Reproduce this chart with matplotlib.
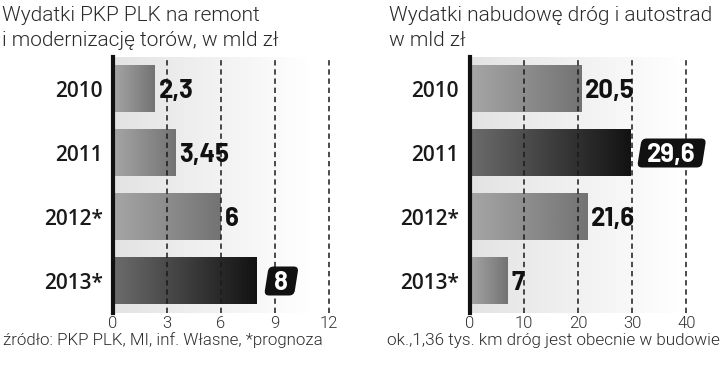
import matplotlib
matplotlib.use("Agg")
import matplotlib.pyplot as plt
import numpy as np
from matplotlib.colors import LinearSegmentedColormap
from matplotlib.patches import FancyBboxPatch
from matplotlib.transforms import Affine2D

YEARS = ["2010", "2011", "2012*", "2013*"]
RAIL_VALUES = [2.3, 3.45, 6, 8]
ROAD_VALUES = [20.5, 29.6, 21.6, 7]
RAIL_TICKS = [0, 3, 6, 9, 12]
ROAD_TICKS = [0, 10, 20, 30, 40]
RAIL_HIGHLIGHT = 3
ROAD_HIGHLIGHT = 1

RAIL_TITLE = ["Wydatki PKP PLK na remont", "i modernizację torów, w mld zł"]
ROAD_TITLE = ["Wydatki nabudowę dróg i autostrad", "w mld zł"]
RAIL_NOTE = "źródło: PKP PLK, MI, inf. Własne, *prognoza"
ROAD_NOTE = "ok.,1,36 tys. km dróg jest obecnie w budowie"

LIGHT_FONT = "Roboto"
LABEL_FONT = "Barlow"
YEAR_FONT = "Open Sans"

W, H = 720, 371

bar_cmap = LinearSegmentedColormap.from_list("bar", ["#a6a6a6", "#737373"])
hl_cmap = LinearSegmentedColormap.from_list("hl", ["#6c6c6c", "#121212"])
bg_cmap = LinearSegmentedColormap.from_list("bg", ["#e3e3e3", "#ffffff"])


def fmt(v):
    return f"{v:g}".replace(".", ",")


def draw_panel(fig, rect, values, ticks, xmax, highlight):
    ax = fig.add_axes(rect)
    n = len(values)
    grad = np.linspace(0, 1, 256)
    fade = np.clip(grad / 0.88, 0, 1)
    ax.imshow(fade[None, :], cmap=bg_cmap, extent=(0, xmax, n - 0.5, -0.5),
              aspect="auto", zorder=0, interpolation="bilinear")
    for i, v in enumerate(values):
        cmap = hl_cmap if i == highlight else bar_cmap
        ax.imshow(grad[None, :], cmap=cmap, extent=(0, v, i + 0.36, i - 0.36),
                  aspect="auto", zorder=1, interpolation="bilinear")
    for t in ticks[1:]:
        ax.axvline(t, color="#1a1a1a", lw=1.1, ls=(0, (3.5, 2.5)), zorder=2)

    ax.set_xlim(0, xmax)
    ax.set_ylim(n - 0.5, -0.5)
    for s in ["top", "right", "bottom"]:
        ax.spines[s].set_visible(False)
    ax.spines["left"].set_linewidth(3)
    ax.spines["left"].set_color("#111111")
    ax.spines["left"].set_zorder(3)

    ax.set_xticks(ticks)
    ax.set_xticklabels([str(t) for t in ticks], fontfamily=LIGHT_FONT,
                       fontweight=300, fontsize=12, color="#333333")
    ax.set_yticks(range(n))
    ax.set_yticklabels(YEARS, fontfamily=YEAR_FONT, fontweight=600,
                       fontsize=15, color="#1a1a1a")
    ax.tick_params(axis="x", length=0, pad=2)
    ax.tick_params(axis="y", length=0, pad=7.5)

    labels = []
    for i, v in enumerate(values):
        if i == highlight:
            txt = ax.annotate(fmt(v), (v, i), xytext=(12.5, -6.6), textcoords="offset points",
                              ha="left", va="baseline", fontfamily=LABEL_FONT,
                              fontweight=700, fontsize=18.5, color="white", zorder=5,
                              annotation_clip=False)
            labels.append((txt, i))
        else:
            ax.annotate(fmt(v), (v, i), xytext=(3, -6.6), textcoords="offset points",
                        ha="left", va="baseline", fontfamily=LABEL_FONT,
                        fontweight=700, fontsize=18.5, color="#111111", zorder=5,
                        annotation_clip=False)
    return ax, labels


fig = plt.figure(figsize=(W / 100, H / 100), dpi=100)

bottom = (H - 313) / H
height = 256 / H
ax1, hl1 = draw_panel(fig, [113 / W, bottom, 225 / W, height],
                      RAIL_VALUES, RAIL_TICKS, 12.5, RAIL_HIGHLIGHT)
ax2, hl2 = draw_panel(fig, [469.5 / W, bottom, 244 / W, height],
                      ROAD_VALUES, ROAD_TICKS, 45, ROAD_HIGHLIGHT)

for x, lines in [(2, RAIL_TITLE), (389, ROAD_TITLE)]:
    for k, line in enumerate(lines):
        fig.text(x / W, 1 - (21 + 25 * k) / H, line, ha="left", va="baseline",
                 fontfamily=LIGHT_FONT, fontweight=300, fontsize=15, color="#2a2a2a")
fig.text(3 / W, 1 - 345 / H, RAIL_NOTE, ha="left", va="baseline", fontfamily=LIGHT_FONT,
         fontweight=300, fontsize=12.2, color="#2a2a2a")
fig.text(387 / W, 1 - 345 / H, ROAD_NOTE, ha="left", va="baseline", fontfamily=LIGHT_FONT,
         fontweight=300, fontsize=12.3, color="#2a2a2a")

# black slanted boxes behind highlighted values
fig.canvas.draw()
renderer = fig.canvas.get_renderer()
for ax, labels in [(ax1, hl1), (ax2, hl2)]:
    for txt, i in labels:
        bb = txt.get_window_extent(renderer)
        cy = ax.transData.transform((0, i))[1]
        cx = (bb.x0 + bb.x1) / 2
        bw = bb.width + 16
        bh = 29
        skew = Affine2D().translate(-cx, -cy).skew_deg(9, 0).translate(cx, cy)
        box = FancyBboxPatch((cx - bw / 2, cy - bh / 2), bw, bh,
                             boxstyle="round,pad=0,rounding_size=5",
                             fc="#111111", ec="none", transform=skew,
                             zorder=4, clip_on=False)
        ax.add_patch(box)

fig.savefig("out.png", dpi=100, facecolor="white")
